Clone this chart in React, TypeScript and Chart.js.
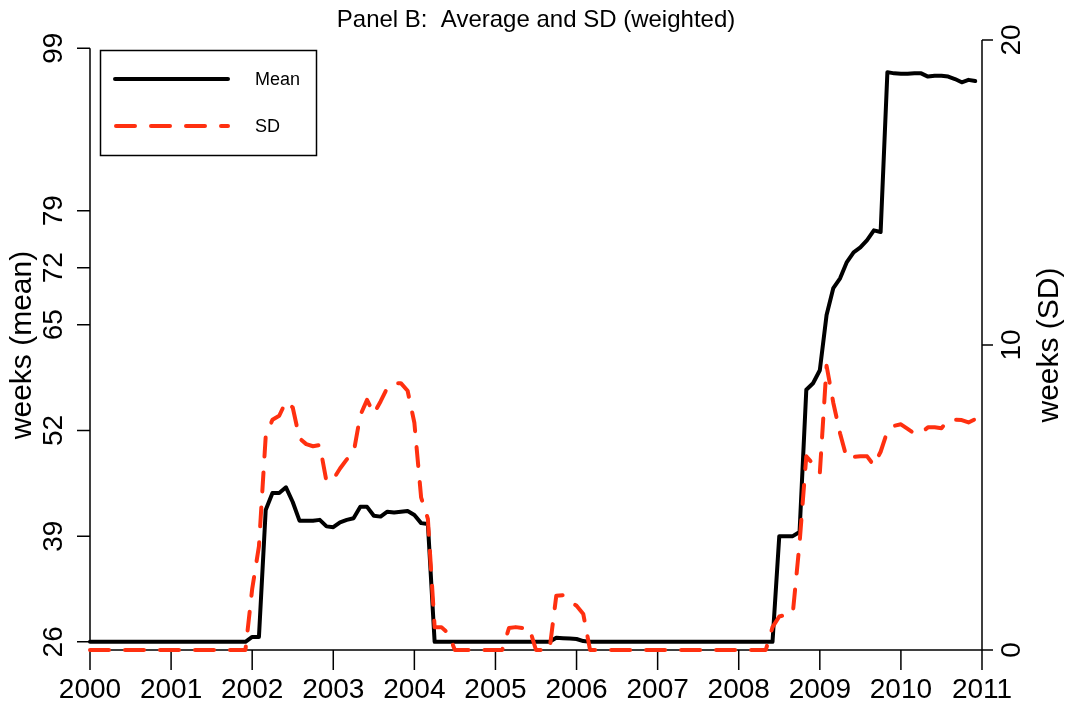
import React, { useEffect, useRef } from 'react';
import { Chart, registerables } from 'chart.js';

Chart.register(...registerables);

// Months are plotted at year + (month-1)/12, Jan 2000 .. Dec 2010
const YEARS = [2000, 2001, 2002, 2003, 2004, 2005, 2006, 2007, 2008, 2009, 2010];

// weeks (mean), one row per year, Jan..Dec
const MEAN_WEEKS = [
  26, 26, 26, 26, 26, 26, 26, 26, 26, 26, 26, 26,
  26, 26, 26, 26, 26, 26, 26, 26, 26, 26, 26, 26,
  26.6, 26.6, 42.2, 44.3, 44.3, 45.0, 43.2, 40.9, 40.9, 40.9, 41.0, 40.2,
  40.1, 40.7, 41.0, 41.2, 42.6, 42.6, 41.5, 41.4, 42.0, 41.9, 42.0, 42.1,
  41.6, 40.6, 40.5, 26, 26, 26, 26, 26, 26, 26, 26, 26,
  26, 26, 26, 26, 26, 26, 26, 26, 26, 26.5, 26.45, 26.4,
  26.35, 26.1, 26, 26, 26, 26, 26, 26, 26, 26, 26, 26,
  26, 26, 26, 26, 26, 26, 26, 26, 26, 26, 26, 26,
  26, 26, 26, 26, 26, 26, 39.0, 39.0, 39.0, 39.5, 57.0, 57.8,
  59.4, 66.2, 69.5, 70.7, 72.7, 73.9, 74.5, 75.4, 76.6, 76.4, 96.05, 95.9,
  95.85, 95.85, 95.9, 95.9, 95.5, 95.6, 95.6, 95.5, 95.2, 94.8, 95.1, 94.95,
];

// weeks (SD), one row per year, Jan..Dec
const SD_WEEKS = [
  0, 0, 0, 0, 0, 0, 0, 0, 0, 0, 0, 0,
  0, 0, 0, 0, 0, 0, 0, 0, 0, 0, 0, 0,
  2.0, 3.4, 7.0, 7.55, 7.68, 8.15, 7.95, 6.94, 6.75, 6.68, 6.72, 5.52,
  5.6, 5.95, 6.25, 6.45, 7.7, 8.2, 7.75, 8.15, 8.6, 8.75, 8.75, 8.5,
  7.45, 5.0, 4.3, 0.75, 0.75, 0.55, 0, 0, 0, 0, 0, 0,
  0, 0, 0.72, 0.75, 0.72, 0.73, 0, 0, 0, 1.78, 1.8, 1.6,
  1.45, 1.18, 0, 0, 0, 0, 0, 0, 0, 0, 0, 0,
  0, 0, 0, 0, 0, 0, 0, 0, 0, 0, 0, 0,
  0, 0, 0, 0, 0, 0.75, 1.1, 1.15, 1.2, 3.5, 6.35, 6.1,
  5.8, 9.32, 8.1, 7.1, 6.28, 6.33, 6.35, 6.35, 6.05, 6.5, 7.17, 7.35,
  7.4, 7.25, 7.1, 7.12, 7.3, 7.3, 7.27, 7.54, 7.55, 7.54, 7.46, 7.57,
];

const X_TICKS = [2000, 2001, 2002, 2003, 2004, 2005, 2006, 2007, 2008, 2009, 2010, 2011];
const MEAN_TICKS = [26, 39, 52, 65, 72, 79, 99];
const SD_TICKS = [0, 10, 20];

const TITLE = 'Panel B:  Average and SD (weighted)';
const MEAN_LABEL = 'Mean';
const SD_LABEL = 'SD';
const Y_LEFT_TITLE = 'weeks (mean)';
const Y_RIGHT_TITLE = 'weeks (SD)';

const RED = '#ff3010';
const FONT = '"Liberation Sans", Arial, Helvetica, sans-serif';
const DASH = [19, 16];

const MONTH_X = YEARS.flatMap((y) => Array.from({ length: 12 }, (_, m) => y + m / 12));

const axesPlugin = {
  id: 'rAxes',
  beforeDatasetsDraw(chart: any) {
    const ctx: CanvasRenderingContext2D = chart.ctx;
    const xs = chart.scales.x;
    const yl = chart.scales.yMean;
    const yr = chart.scales.ySD;
    const area = chart.chartArea;
    ctx.save();
    ctx.strokeStyle = '#000';
    ctx.fillStyle = '#000';
    ctx.lineWidth = 1.5;
    ctx.lineCap = 'butt';

    // bottom axis
    const yb = area.bottom;
    ctx.beginPath();
    ctx.moveTo(xs.getPixelForValue(X_TICKS[0]), yb);
    ctx.lineTo(xs.getPixelForValue(X_TICKS[X_TICKS.length - 1]), yb);
    X_TICKS.forEach((t) => {
      const px = xs.getPixelForValue(t);
      ctx.moveTo(px, yb);
      ctx.lineTo(px, yb + 20);
    });
    ctx.stroke();
    ctx.font = `28px ${FONT}`;
    ctx.textAlign = 'center';
    ctx.textBaseline = 'middle';
    X_TICKS.forEach((t) => {
      ctx.fillText(String(t), xs.getPixelForValue(t), 690);
    });

    // left axis
    const xl = area.left;
    ctx.beginPath();
    ctx.moveTo(xl, yl.getPixelForValue(MEAN_TICKS[0]));
    ctx.lineTo(xl, yl.getPixelForValue(MEAN_TICKS[MEAN_TICKS.length - 1]));
    MEAN_TICKS.forEach((t) => {
      const py = yl.getPixelForValue(t);
      ctx.moveTo(xl, py);
      ctx.lineTo(xl - 13, py);
    });
    ctx.stroke();
    MEAN_TICKS.forEach((t) => {
      const py = yl.getPixelForValue(t);
      ctx.save();
      ctx.translate(54, py);
      ctx.rotate(-Math.PI / 2);
      ctx.fillText(String(t), 0, 0);
      ctx.restore();
    });

    // right axis
    const xr = area.right;
    ctx.beginPath();
    ctx.moveTo(xr, yr.getPixelForValue(SD_TICKS[0]));
    ctx.lineTo(xr, yr.getPixelForValue(SD_TICKS[SD_TICKS.length - 1]));
    SD_TICKS.forEach((t) => {
      const py = yr.getPixelForValue(t);
      ctx.moveTo(xr, py);
      ctx.lineTo(xr + 11, py);
    });
    ctx.stroke();
    SD_TICKS.forEach((t) => {
      const py = yr.getPixelForValue(t);
      ctx.save();
      ctx.translate(1012, py);
      ctx.rotate(-Math.PI / 2);
      ctx.fillText(String(t), 0, 0);
      ctx.restore();
    });

    // axis titles
    const midY = (area.top + area.bottom) / 2;
    ctx.font = `30px ${FONT}`;
    ctx.save();
    ctx.translate(23, midY);
    ctx.rotate(-Math.PI / 2);
    ctx.fillText(Y_LEFT_TITLE, 0, 0);
    ctx.restore();
    ctx.save();
    ctx.translate(1050, midY);
    ctx.rotate(-Math.PI / 2);
    ctx.fillText(Y_RIGHT_TITLE, 0, 0);
    ctx.restore();

    // main title
    ctx.font = `24px ${FONT}`;
    ctx.fillText(TITLE, (area.left + area.right) / 2, 20);
    ctx.restore();
  },
  afterDraw(chart: any) {
    const ctx: CanvasRenderingContext2D = chart.ctx;
    ctx.save();
    // legend box
    ctx.strokeStyle = '#000';
    ctx.lineWidth = 1.5;
    ctx.strokeRect(100.5, 50.5, 216, 105);
    ctx.lineCap = 'round';
    ctx.lineWidth = 4;
    ctx.beginPath();
    ctx.moveTo(115, 79);
    ctx.lineTo(228, 79);
    ctx.stroke();
    ctx.strokeStyle = RED;
    ctx.setLineDash(DASH);
    ctx.beginPath();
    ctx.moveTo(116, 126);
    ctx.lineTo(228, 126);
    ctx.stroke();
    ctx.setLineDash([]);
    ctx.fillStyle = '#000';
    ctx.font = `18px ${FONT}`;
    ctx.textAlign = 'left';
    ctx.textBaseline = 'middle';
    ctx.fillText(MEAN_LABEL, 255, 80);
    ctx.fillText(SD_LABEL, 255, 127);
    ctx.restore();
  },
};

export default function App() {
  const ref = useRef<HTMLCanvasElement>(null);
  useEffect(() => {
    document.body.style.margin = '0';
    const canvas = ref.current;
    if (!canvas) return;
    const chart = new Chart(canvas, {
      type: 'line',
      data: {
        datasets: [
          {
            label: MEAN_LABEL,
            data: MEAN_WEEKS.map((v, i) => ({ x: MONTH_X[i], y: v })),
            yAxisID: 'yMean',
            borderColor: '#000',
            borderWidth: 4,
            pointRadius: 0,
            tension: 0,
            borderCapStyle: 'round',
            borderJoinStyle: 'round',
            clip: false,
            order: 2,
          },
          {
            label: SD_LABEL,
            data: SD_WEEKS.map((v, i) => ({ x: MONTH_X[i], y: v })),
            yAxisID: 'ySD',
            borderColor: RED,
            borderWidth: 4,
            borderDash: DASH,
            pointRadius: 0,
            tension: 0,
            borderCapStyle: 'round',
            borderJoinStyle: 'round',
            clip: false,
            order: 1,
          },
        ],
      },
      options: {
        animation: false,
        responsive: true,
        maintainAspectRatio: false,
        layout: { padding: { top: 40, left: 0, right: 0, bottom: 0 } },
        plugins: { legend: { display: false }, title: { display: false }, tooltip: { enabled: false } },
        scales: {
          x: {
            type: 'linear',
            min: 2000,
            max: 2011,
            ticks: { display: false },
            grid: { display: false },
            border: { display: false },
            afterFit: (s: any) => { s.height = 58; },
          },
          yMean: {
            type: 'linear',
            position: 'left',
            min: 25,
            max: 100,
            ticks: { display: false },
            grid: { display: false },
            border: { display: false },
            afterFit: (s: any) => { s.width = 90; },
          },
          ySD: {
            type: 'linear',
            position: 'right',
            min: 0,
            max: 20,
            ticks: { display: false },
            grid: { display: false },
            border: { display: false },
            afterFit: (s: any) => { s.width = 88; },
          },
        },
      } as any,
      plugins: [axesPlugin],
    });
    return () => chart.destroy();
  }, []);
  return (
    <div style={{ position: 'absolute', left: 0, top: 0, width: 1070, height: 708, background: '#fff' }}>
      <canvas ref={ref} />
    </div>
  );
}
